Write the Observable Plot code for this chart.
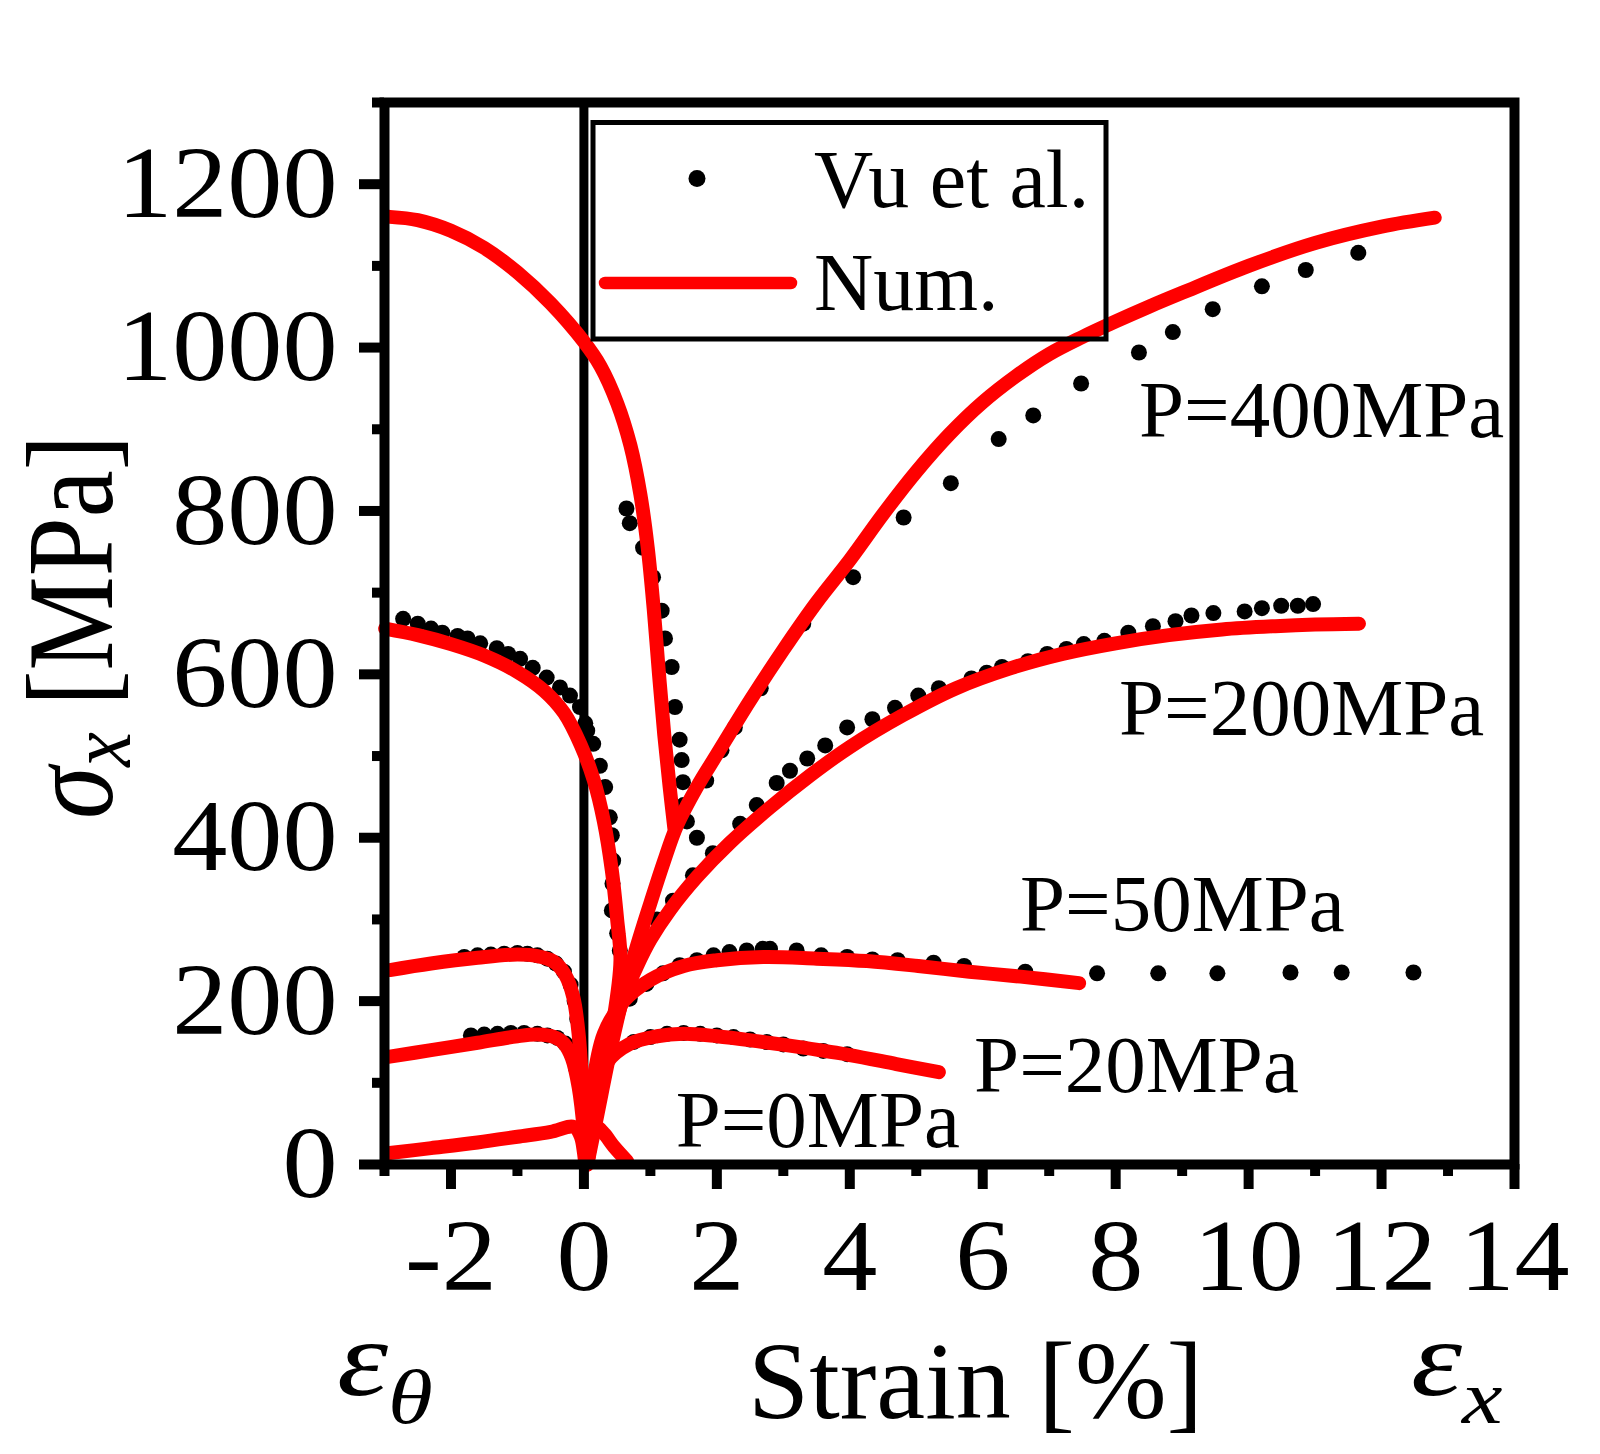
<!DOCTYPE html>
<html>
<head>
<meta charset="utf-8">
<script src="https://cdn.jsdelivr.net/npm/d3@7"></script>
<script src="https://cdn.jsdelivr.net/npm/@observablehq/plot@0.6"></script>
<style>
  html, body { margin: 0; padding: 0; background: #fff; }
  svg text { font-family: 'Liberation Serif', 'Times New Roman', serif; }
</style>
</head>
<body>
<div id="chart"></div>
<script>
// ---------- tick values ----------
const xMajorTicks = [-2, 0, 2, 4, 6, 8, 10, 12, 14];
const xMinorTicks = [-3, -1, 1, 3, 5, 7, 9, 11, 13];
const yMajorTicks = [0, 200, 400, 600, 800, 1000, 1200];
const yMinorTicks = [100, 300, 500, 700, 900, 1100, 1300];

// ---------- numerical curves (strain %, sigma_x MPa) ----------
const num400Theta = [[-2.92,1160],[-2.5,1156],[-2.0,1143],[-1.5,1122],[-1.0,1092],[-0.5,1054],[0.0,1007],[0.25,977],[0.5,932],[0.7,880],[0.85,820],[0.96,755],[1.05,680],[1.13,600],[1.21,525],[1.29,462],[1.36,412]];
const num400X = [[0.05,0],[0.2,60],[0.4,140],[0.6,210],[0.8,268],[1.0,320],[1.2,370],[1.4,415],[1.7,462],[2.0,502],[2.5,568],[3.0,630],[3.5,688],[4.0,740],[4.5,796],[5.0,848],[5.5,894],[6.0,933],[6.5,965],[7.0,992],[7.5,1013],[8.0,1032],[8.5,1050],[9.0,1067],[10.0,1100],[11.0,1128],[12.0,1148],[12.8,1159]];
const num200Theta = [[-2.99,656],[-2.5,648],[-2.0,637],[-1.5,623],[-1.0,603],[-0.6,580],[-0.3,553],[-0.05,514],[0.15,470],[0.3,420],[0.42,360],[0.5,300],[0.55,250],[0.45,180],[0.25,100],[0.05,0]];
const num200X = [[0.05,0],[0.2,75],[0.4,150],[0.6,205],[0.8,243],[1.0,275],[1.3,312],[1.7,352],[2.2,394],[2.8,437],[3.4,476],[4.0,511],[4.8,550],[5.6,583],[6.4,607],[7.2,625],[8.0,638],[8.8,648],[9.6,655],[10.4,659],[11.0,661],[11.66,662]];
const num50Theta = [[-2.92,238],[-2.3,246],[-1.6,253],[-1.0,257],[-0.7,255],[-0.45,248],[-0.28,232],[-0.16,205],[-0.08,160],[-0.02,90],[0.03,0]];
const num50X = [[0.03,0],[0.12,90],[0.3,160],[0.6,200],[1.0,226],[1.5,243],[2.0,250],[2.7,254],[3.5,252],[4.26,249],[5.03,243],[5.8,236],[6.57,230],[7.45,222]];
const num20Theta = [[-2.92,132],[-2.3,140],[-1.6,149],[-1.0,157],[-0.7,159],[-0.45,156],[-0.3,148],[-0.18,130],[-0.08,95],[0.0,40],[0.03,0]];
const num20X = [[0.03,0],[0.12,70],[0.35,125],[0.7,148],[1.1,157],[1.5,160],[2.0,157],[2.6,151],[3.3,143],[4.0,134],[4.7,123],[5.34,113]];
const num0Theta = [[-2.92,14],[-2.3,20],[-1.6,27],[-1.0,34],[-0.5,40],[-0.15,46],[-0.05,35],[0.0,15],[0.02,0]];
const num0X = [[0.02,0],[0.08,30],[0.18,46],[0.3,38],[0.45,22],[0.65,4]];

// ---------- Vu et al. points ----------
const vu400Theta = [[0.64,803],[0.69,785],[0.89,755],[1.04,719],[1.17,678],[1.22,644],[1.32,609],[1.37,560],[1.44,520],[1.47,495],[1.49,468],[1.5,440],[1.55,420]];
const vu400X = [[1.7,400],[1.84,470],[2.07,507],[2.27,535],[2.66,583],[3.3,662],[4.05,719],[4.81,792],[5.52,834],[6.24,888],[6.76,917],[7.48,956],[8.35,994],[8.86,1019],[9.46,1047],[10.2,1075],[10.86,1095],[11.65,1116]];
const vu200Theta = [[-2.72,668],[-2.5,662],[-2.3,656],[-2.13,651],[-1.9,647],[-1.75,644],[-1.56,638],[-1.31,632],[-1.14,625],[-0.96,619],[-0.77,608],[-0.56,596],[-0.36,584],[-0.21,574],[-0.06,560],[0.02,540],[0.05,531],[0.14,515],[0.24,488],[0.32,462],[0.39,425],[0.42,403],[0.44,372],[0.43,344],[0.42,311],[0.5,283],[0.54,262]];
const vu200X = [[1.1,300],[1.34,323],[1.64,354],[1.94,381],[2.35,417],[2.6,440],[2.9,467],[3.1,482],[3.36,497],[3.63,513],[3.96,535],[4.34,545],[4.68,559],[5.03,574],[5.34,583],[5.83,595],[6.06,602],[6.29,609],[6.68,616],[6.97,625],[7.26,631],[7.52,637],[7.83,641],[8.19,651],[8.56,659],[8.9,665],[9.14,672],[9.47,675],[9.94,677],[10.2,681],[10.49,684],[10.74,684],[10.97,686]];
const vu50Theta = [[-1.8,254],[-1.6,256],[-1.4,257],[-1.2,258],[-1.0,259],[-0.85,258],[-0.7,256],[-0.55,252],[-0.42,246],[-0.3,236],[-0.2,220],[-0.14,200],[-0.1,178],[-0.07,150]];
const vu50X = [[0.69,203],[0.94,221],[1.19,234],[1.44,244],[1.7,250],[1.95,256],[2.19,260],[2.45,262],[2.69,264],[2.8,264],[3.2,262],[3.57,256],[3.96,254],[4.34,251],[4.72,250],[5.26,247],[5.72,243],[6.64,236],[7.72,234],[8.64,234],[9.53,234],[10.63,235],[11.4,235],[12.48,235]];
const vu20Theta = [[-1.7,158],[-1.5,159],[-1.3,160],[-1.1,161],[-0.9,161],[-0.7,160],[-0.55,158],[-0.4,155],[-0.28,148],[-0.18,135],[-0.12,118]];
const vu20X = [[0.75,150],[1.0,156],[1.25,160],[1.5,161],[1.75,160],[2.0,158],[2.25,156],[2.5,153],[2.75,150],[3.0,147],[3.3,142],[3.6,139],[3.96,135]];

// ---------- annotation labels ----------
const pLabels = ["P=400MPa", "P=200MPa", "P=50MPa", "P=20MPa", "P=0MPa"];
const pLabelStrain = [8.35, 8.05, 6.56, 5.87, 1.38];
const pLabelStress = [922, 558, 317, 121, 53];

// ---------- build tables ----------
const numSeries = {num400Theta, num400X, num200Theta, num200X, num50Theta, num50X, num20Theta, num20X, num0Theta, num0X};
const vuSeries = {vu400Theta, vu400X, vu200Theta, vu200X, vu50Theta, vu50X, vu20Theta, vu20X};
const numRows = Object.entries(numSeries).flatMap(([id, pts]) => pts.map(([s, v]) => ({id, s, v})));
const vuRows = Object.entries(vuSeries).flatMap(([id, pts]) => pts.map(([s, v]) => ({id, s, v})));
const annRows = pLabels.map((label, i) => ({label, s: pLabelStrain[i], v: pLabelStress[i]}));

const RED = "#ff0000";
const FONT = "'Liberation Serif', 'Times New Roman', serif";

const chart = Plot.plot({
  width: 1600,
  height: 1454,
  marginLeft: 384,
  marginRight: 86,
  marginTop: 102,
  marginBottom: 290,
  x: {domain: [-3, 14], label: null},
  y: {domain: [0, 1300], label: null},
  style: {fontFamily: FONT, fontSize: "102px", background: "white", color: "black", overflow: "visible"},
  marks: [
    Plot.ruleX([0], {stroke: "black", strokeWidth: 9}),
    Plot.dot(vuRows, {x: "s", y: "v", r: 8, fill: "black", stroke: null}),
    Plot.line(numRows, {x: "s", y: "v", z: "id", stroke: RED, strokeWidth: 14, curve: "catmull-rom", strokeLinecap: "round", strokeLinejoin: "round"}),
    Plot.frame({stroke: "black", strokeWidth: 10}),
    Plot.axisX(xMinorTicks, {tickSize: 12, strokeWidth: 10, tickFormat: () => "", label: null}),
    Plot.axisX(xMajorTicks, {tickSize: 25, strokeWidth: 10, tickPadding: 28, tickFormat: d => String(d), fontSize: 102, label: null}),
    Plot.axisY(yMinorTicks, {tickSize: 12, strokeWidth: 10, tickFormat: () => "", label: null}),
    Plot.axisY(yMajorTicks, {tickSize: 25, strokeWidth: 10, tickPadding: 22, tickFormat: d => String(d), fontSize: 102, label: null}),
    Plot.text(annRows, {x: "s", y: "v", text: "label", textAnchor: "start", lineAnchor: "middle", fontSize: 81, fill: "black"})
  ]
});

document.getElementById("chart").appendChild(chart);

// widen glyphs of axis tick labels horizontally around their anchor
function stretchText(el, sx) {
  const xAttr = el.getAttribute("x");
  let x = 0;
  if (xAttr != null && !/em/.test(xAttr)) { x = parseFloat(xAttr) || 0; el.removeAttribute("x"); }
  const t = el.getAttribute("transform") || "";
  el.setAttribute("transform", `${t} translate(${x},0) scale(${sx},1)`);
}
d3.select(chart).selectAll('g[aria-label="x-axis tick label"] text, g[aria-label="y-axis tick label"] text')
  .each(function() { stretchText(this, 1.08); });

// ---------- overlay: legend & axis titles ----------
const svg = d3.select(chart);
const g = svg.append("g").attr("font-family", FONT).attr("fill", "black").attr("text-anchor", "start");

// legend box
g.append("rect").attr("x", 593).attr("y", 122.5).attr("width", 513).attr("height", 216.5)
  .attr("fill", "none").attr("stroke", "black").attr("stroke-width", 5);
g.append("circle").attr("cx", 697).attr("cy", 178.5).attr("r", 8.5).attr("fill", "black");
g.append("line").attr("x1", 605).attr("x2", 791).attr("y1", 283).attr("y2", 283)
  .attr("stroke", RED).attr("stroke-width", 12.5).attr("stroke-linecap", "round");
g.append("text").attr("x", 814).attr("y", 207).attr("font-size", 82).text("Vu et al.");
g.append("text").attr("x", 814).attr("y", 310).attr("font-size", 82).text("Num.");

// x axis title
g.append("text").attr("x", 748).attr("y", 1418).attr("font-size", 110).text("Strain [%]");
const et = g.append("text").attr("transform", "translate(337,1395) scale(1.2,1)").attr("font-size", 108);
et.append("tspan").attr("font-style", "italic").text("ε");
et.append("tspan").attr("font-style", "italic").attr("font-size", 76).attr("dx", 0).attr("dy", 28).text("θ");
const ex = g.append("text").attr("transform", "translate(1411,1395) scale(1.2,1)").attr("font-size", 108);
ex.append("tspan").attr("font-style", "italic").text("ε");
ex.append("tspan").attr("font-style", "italic").attr("font-size", 76).attr("dx", 0).attr("dy", 28).text("x");

// y axis title (rotated)
const yt = g.append("text").attr("transform", "translate(112,627) scale(1.15,1) rotate(-90)")
  .attr("text-anchor", "middle").attr("font-size", 106);
yt.append("tspan").attr("font-style", "italic").text("σ");
yt.append("tspan").attr("font-style", "italic").attr("font-size", 78).attr("dy", 16).text("x");
yt.append("tspan").attr("dy", -16).text(" [MPa]");
</script>
</body>
</html>
